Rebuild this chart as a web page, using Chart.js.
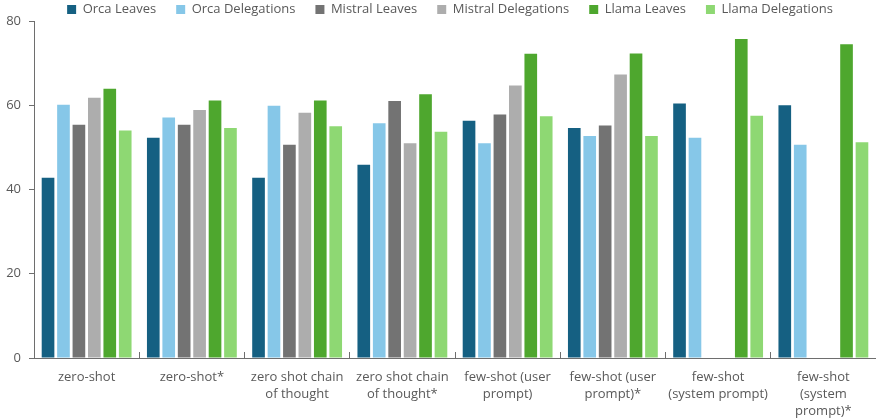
<!DOCTYPE html>
<html>
<head>
<meta charset="utf-8">
<script src="https://cdn.jsdelivr.net/npm/chart.js@4"></script>
<style>
html,body{margin:0;padding:0;background:#fff;}
#wrap{width:876px;height:419px;position:relative;}
</style>
</head>
<body>
<div id="wrap"><canvas id="c"></canvas></div>
<script>
const categories = [
  "zero-shot",
  "zero-shot*",
  ["zero shot chain", "of thought"],
  ["zero shot chain", "of thought*"],
  ["few-shot (user", "prompt)"],
  ["few-shot (user", "prompt)*"],
  ["few-shot", "(system prompt)"],
  ["few-shot", "(system", "prompt)*"]
];
const orcaLeaves       = [42.8, 52.3, 42.8, 45.9, 56.3, 54.6, 60.4, 60.0];
const orcaDelegations  = [60.1, 57.1, 59.9, 55.7, 51.0, 52.7, 52.3, 50.6];
const mistralLeaves    = [55.4, 55.4, 50.6, 61.0, 57.8, 55.2, null, null];
const mistralDelegations = [61.8, 58.9, 58.2, 51.0, 64.7, 67.3, null, null];
const llamaLeaves      = [63.9, 61.1, 61.1, 62.6, 72.2, 72.3, 75.7, 74.5];
const llamaDelegations = [54.0, 54.6, 55.0, 53.7, 57.4, 52.7, 57.5, 51.2];
const yTicks = [0, 20, 40, 60, 80];

const seriesNames = ["Orca Leaves","Orca Delegations","Mistral Leaves","Mistral Delegations","Llama Leaves","Llama Delegations"];
const seriesData = [orcaLeaves, orcaDelegations, mistralLeaves, mistralDelegations, llamaLeaves, llamaDelegations];
const seriesColors = ["#156082","#86c7e8","#737373","#adadad","#4ea72e","#8ed873"];

const FONT = "'Open Sans', sans-serif";
const TXT = "#595959";
const AX = "#6e6e6e";
const LEG_PAD = 20;

const legendFit = {
  id: 'legendFit',
  beforeInit(chart) {
    const orig = chart.legend.fit;
    chart.legend.fit = function() {
      orig.call(this);
      this.height = 38;
    };
  },
  afterLayout(chart) {
    chart.legend.left += 12;
    chart.legend.right += 12;
  }
};

new Chart(document.getElementById('c'), {
  type: 'bar',
  data: {
    labels: categories,
    datasets: seriesNames.map((n, i) => ({
      label: n,
      data: seriesData[i],
      backgroundColor: seriesColors[i],
      borderWidth: 0,
      categoryPercentage: 0.88,
      barPercentage: 0.82
    }))
  },
  options: {
    responsive: true,
    maintainAspectRatio: false,
    animation: false,
    layout: { padding: { top: -17, left: 0, right: 0, bottom: 0 } },
    plugins: {
      legend: {
        position: 'top',
        labels: {
          font: { family: FONT, size: 13 },
          color: TXT,
          boxWidth: 9,
          boxHeight: 9,
          padding: LEG_PAD
        }
      },
      tooltip: { enabled: false }
    },
    scales: {
      x: {
        grid: { display: true, drawOnChartArea: false, offset: true, color: AX, tickLength: -6, lineWidth: 1 },
        border: { display: true, color: AX, width: 1 },
        ticks: { font: { family: FONT, size: 13, lineHeight: 1.3 }, color: TXT, padding: 17, maxRotation: 0, autoSkip: false },
        afterFit(s) { s.height = 61; }
      },
      y: {
        min: 0, max: 80,
        afterBuildTicks(s) { s.ticks = yTicks.map(v => ({ value: v })); },
        grid: { display: true, drawOnChartArea: false, color: AX, tickLength: 5 },
        border: { display: true, color: AX, width: 1 },
        ticks: { font: { family: FONT, size: 13 }, color: TXT, padding: 8 },
        afterFit(s) { s.width = 34; }
      }
    }
  },
  plugins: [legendFit]
});
</script>
</body>
</html>
